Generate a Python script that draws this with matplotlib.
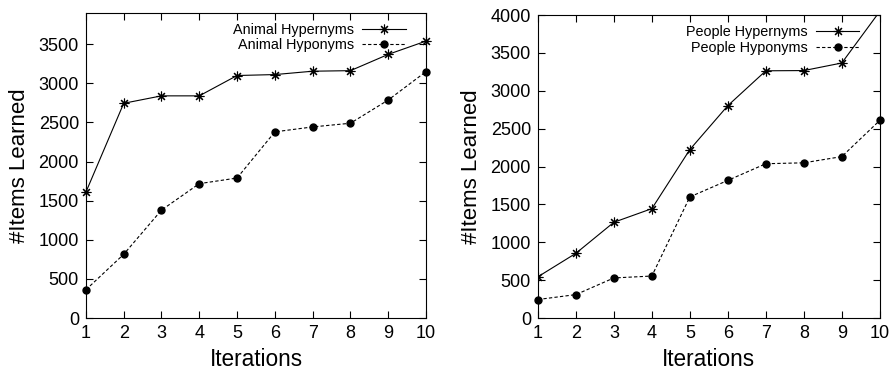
import matplotlib
matplotlib.use("Agg")
import matplotlib.pyplot as plt

plt.rcParams['font.family'] = ['Liberation Sans', 'DejaVu Sans']

iterations = [1, 2, 3, 4, 5, 6, 7, 8, 9, 10]
animal_hyper = [1610, 2745, 2840, 2840, 3100, 3112, 3155, 3162, 3370, 3540]
animal_hypo = [362, 815, 1380, 1718, 1790, 2380, 2443, 2490, 2787, 3150]
people_hyper = [545, 855, 1265, 1445, 2225, 2805, 3265, 3268, 3368, 4050]
people_hypo = [245, 310, 530, 555, 1600, 1818, 2038, 2050, 2132, 2610]

left_ticks = [0, 500, 1000, 1500, 2000, 2500, 3000, 3500]
right_ticks = [0, 500, 1000, 1500, 2000, 2500, 3000, 3500, 4000]

fig = plt.figure(figsize=(8.95, 3.69), dpi=100)
ax1 = fig.add_axes([0.096, 0.138, 0.380, 0.827])
ax2 = fig.add_axes([0.601, 0.138, 0.382, 0.821])

star = (8, 2, 0)

def draw(ax, hyper, hypo, lab1, lab2, ymax, yticks):
    ax.plot(iterations, hyper, color='black', lw=0.8, marker=star, ms=7,
            mew=0.8, label=lab1, clip_on=False if ymax > max(hyper) else True)
    ax.plot(iterations, hypo, color='black', lw=0.8, ls=(0, (3, 2)), marker='o',
            ms=5, label=lab2, clip_on=False)
    ax.set_xlim(1, 10)
    ax.set_ylim(0, ymax)
    ax.set_xticks(iterations)
    ax.set_yticks(yticks)
    ax.tick_params(direction='in', top=True, right=True, length=5, width=0.8,
                   labelsize=13, pad=5)
    for s in ax.spines.values():
        s.set_linewidth(0.8)
    ax.set_xlabel('Iterations', fontsize=16.3, labelpad=4)
    ax.set_ylabel('#Items Learned', fontsize=16, labelpad=6)
    ax.legend(loc='upper right', frameon=False, markerfirst=False, fontsize=10.4,
              handlelength=3.0, handletextpad=0.6, labelspacing=0.1,
              borderaxespad=0.3, bbox_to_anchor=(0.97, 1.0))

draw(ax1, animal_hyper, animal_hypo, 'Animal Hypernyms', 'Animal Hyponyms', 3900, left_ticks)
draw(ax2, people_hyper, people_hypo, 'People Hypernyms', 'People Hyponyms', 4000, right_ticks)

fig.savefig('out.png', dpi=100)
